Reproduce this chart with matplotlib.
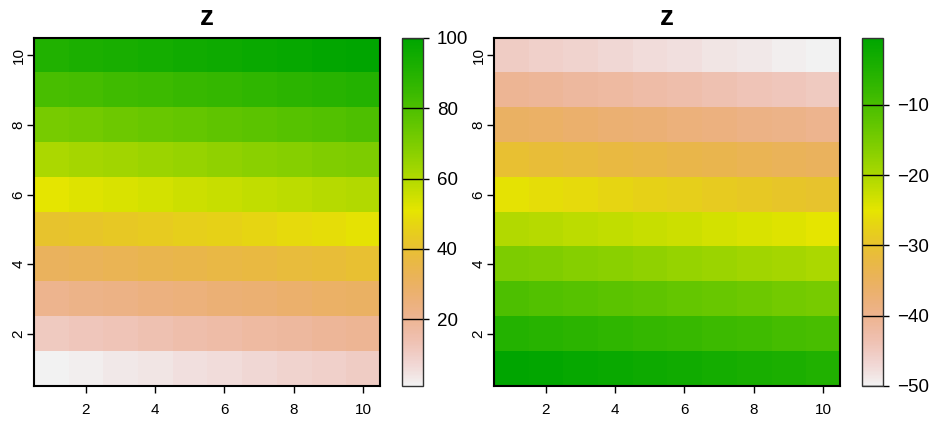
import numpy as np
import matplotlib.pyplot as plt
from matplotlib.colors import ListedColormap, hsv_to_rgb

plt.rcParams['font.family'] = ['Liberation Sans', 'DejaVu Sans']

# grid values, rows from y=1 (bottom) to y=10 (top), columns x=1..10
z_left = [
    [1, 2, 3, 4, 5, 6, 7, 8, 9, 10],
    [11, 12, 13, 14, 15, 16, 17, 18, 19, 20],
    [21, 22, 23, 24, 25, 26, 27, 28, 29, 30],
    [31, 32, 33, 34, 35, 36, 37, 38, 39, 40],
    [41, 42, 43, 44, 45, 46, 47, 48, 49, 50],
    [51, 52, 53, 54, 55, 56, 57, 58, 59, 60],
    [61, 62, 63, 64, 65, 66, 67, 68, 69, 70],
    [71, 72, 73, 74, 75, 76, 77, 78, 79, 80],
    [81, 82, 83, 84, 85, 86, 87, 88, 89, 90],
    [91, 92, 93, 94, 95, 96, 97, 98, 99, 100],
]
z_right = [
    [-0.5, -1.0, -1.5, -2.0, -2.5, -3.0, -3.5, -4.0, -4.5, -5.0],
    [-5.5, -6.0, -6.5, -7.0, -7.5, -8.0, -8.5, -9.0, -9.5, -10.0],
    [-10.5, -11.0, -11.5, -12.0, -12.5, -13.0, -13.5, -14.0, -14.5, -15.0],
    [-15.5, -16.0, -16.5, -17.0, -17.5, -18.0, -18.5, -19.0, -19.5, -20.0],
    [-20.5, -21.0, -21.5, -22.0, -22.5, -23.0, -23.5, -24.0, -24.5, -25.0],
    [-25.5, -26.0, -26.5, -27.0, -27.5, -28.0, -28.5, -29.0, -29.5, -30.0],
    [-30.5, -31.0, -31.5, -32.0, -32.5, -33.0, -33.5, -34.0, -34.5, -35.0],
    [-35.5, -36.0, -36.5, -37.0, -37.5, -38.0, -38.5, -39.0, -39.5, -40.0],
    [-40.5, -41.0, -41.5, -42.0, -42.5, -43.0, -43.5, -44.0, -44.5, -45.0],
    [-45.5, -46.0, -46.5, -47.0, -47.5, -48.0, -48.5, -49.0, -49.5, -50.0],
]
axis_ticks = [2, 4, 6, 8, 10]
cbar_ticks_left = [20, 40, 60, 80, 100]
cbar_ticks_right = [-50, -40, -30, -20, -10]


# R's rev(terrain.colors(255))
def terrain_colors(n):
    k = n // 2
    h1 = np.linspace(4 / 12, 2 / 12, k)
    s1 = np.linspace(1, 1, k)
    v1 = np.linspace(0.65, 0.9, k)
    h2 = np.linspace(2 / 12, 0, n - k + 1)[1:]
    s2 = np.linspace(1, 0, n - k + 1)[1:]
    v2 = np.linspace(0.9, 0.95, n - k + 1)[1:]
    hsv = np.column_stack([np.r_[h1, h2], np.r_[s1, s2], np.r_[v1, v2]])
    return hsv_to_rgb(hsv)

cmap = ListedColormap(terrain_colors(255)[::-1])

fig = plt.figure(figsize=(9.32, 4.23), dpi=100)

panels = [
    (z_left, cbar_ticks_left, 0.0365, 0.4313),
    (z_right, cbar_ticks_right, 0.5300, 0.9249),
]

for z, cticks, ax_left, cb_left in panels:
    z = np.array(z)
    ax = fig.add_axes([ax_left, 0.0875, 0.3715, 0.8227])
    im = ax.imshow(z, origin='lower', cmap=cmap, extent=(0.5, 10.5, 0.5, 10.5),
                   aspect='auto', interpolation='nearest')
    ax.set_xticks(axis_ticks)
    ax.set_yticks(axis_ticks)
    ax.set_yticklabels([str(t) for t in axis_ticks], rotation=90, va='center')
    ax.tick_params(labelsize=11, length=5, width=1)
    ax.tick_params(axis='x', pad=7)
    ax.tick_params(axis='y', pad=1)
    for s in ax.spines.values():
        s.set_linewidth(1.5)
    ax.set_title('z', fontsize=20, fontweight='bold', pad=9)

    cax = fig.add_axes([cb_left, 0.0875, 0.0225, 0.8227])
    cb = fig.colorbar(im, cax=cax)
    cb.set_ticks(cticks)
    cb.outline.set_linewidth(1.0)
    cb.outline.set_edgecolor('#333333')
    cax.tick_params(labelsize=13.5, length=4.5, width=1, pad=5.5)
    for t in cticks:
        cax.axhline(t, color='black', linewidth=1)

fig.savefig('out.png', dpi=100)
